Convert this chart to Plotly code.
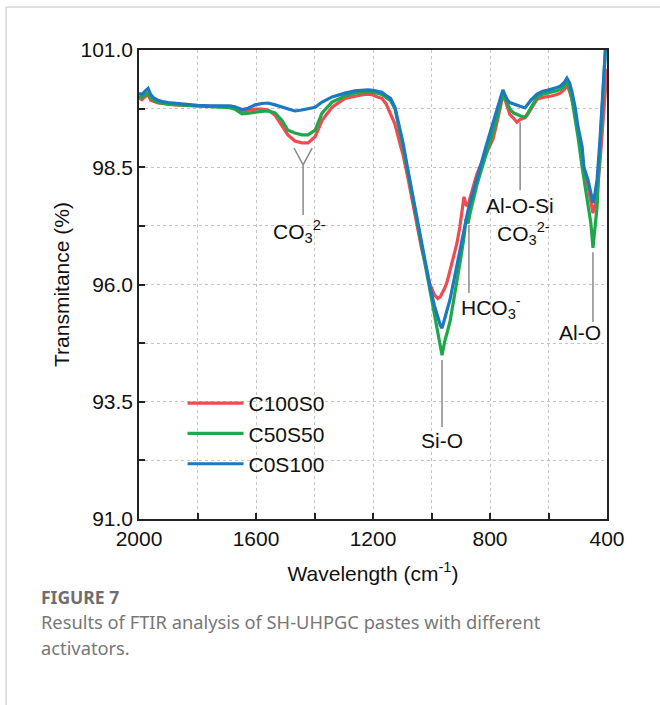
import plotly.graph_objects as go

# ---------------- data ----------------
wavenumber = [2000, 1990, 1980, 1969, 1960, 1950, 1935, 1920, 1900, 1870,
              1840, 1800, 1760, 1720, 1706, 1690, 1672, 1660, 1648, 1630,
              1603, 1580, 1559, 1535, 1511, 1491, 1467, 1443, 1422, 1398,
              1374, 1340, 1296, 1262, 1240, 1217, 1200, 1185, 1170, 1155,
              1140, 1125, 1110, 1097, 1080, 1065, 1050, 1035, 1020, 1005,
              990, 978, 970, 964, 955, 947, 937, 926, 913, 903,
              896, 889, 882, 875, 868, 858, 845, 834, 824, 812,
              800, 790, 780, 770, 760, 756, 749, 740, 732, 720,
              708, 697, 688, 680, 674, 660, 639, 620, 605, 590,
              571, 560, 547, 537, 528, 520, 509, 499, 485, 479,
              465, 455, 448, 441, 434, 424, 414, 407, 400]

c100s0 = [99.98, 99.94, 100.00, 100.05, 99.93, 99.90, 99.87, 99.86, 99.84, 99.83,
          99.82, 99.81, 99.80, 99.80, 99.80, 99.79, 99.77, 99.72, 99.69, 99.71,
          99.74, 99.74, 99.72, 99.61, 99.38, 99.19, 99.06, 99.02, 99.02, 99.15,
          99.50, 99.78, 99.97, 100.02, 100.04, 100.06, 100.04, 100.00, 99.97, 99.85,
          99.65, 99.42, 99.05, 98.76, 98.25, 97.75, 97.30, 96.80, 96.40, 96.00,
          95.78, 95.70, 95.74, 95.80, 95.92, 96.05, 96.30, 96.59, 96.88, 97.23,
          97.50, 97.87, 97.70, 97.68, 97.85, 98.08, 98.35, 98.52, 98.65, 98.80,
          98.93, 99.10, 99.35, 99.65, 99.90, 100.02, 99.95, 99.75, 99.62, 99.55,
          99.46, 99.52, 99.55, 99.56, 99.60, 99.75, 99.95, 99.99, 100.00, 100.02,
          100.05, 100.08, 100.15, 100.25, 100.12, 99.95, 99.65, 99.22, 98.75, 98.42,
          98.10, 97.80, 97.52, 97.70, 97.95, 98.60, 99.40, 100.05, 100.60]

c50s50 = [100.02, 99.98, 100.05, 100.08, 99.98, 99.93, 99.88, 99.86, 99.85, 99.83,
          99.82, 99.81, 99.80, 99.79, 99.79, 99.77, 99.74, 99.68, 99.64, 99.65,
          99.68, 99.69, 99.70, 99.66, 99.50, 99.29, 99.23, 99.19, 99.19, 99.29,
          99.66, 99.89, 100.02, 100.08, 100.09, 100.10, 100.09, 100.08, 100.05, 99.98,
          99.92, 99.75, 99.35, 98.93, 98.38, 97.88, 97.38, 96.82, 96.30, 95.84,
          95.35, 94.98, 94.72, 94.49, 94.78, 95.00, 95.20, 95.60, 96.03, 96.45,
          96.72, 97.00, 97.40, 97.30, 97.52, 97.80, 98.12, 98.35, 98.55, 98.82,
          99.05, 99.23, 99.45, 99.70, 99.93, 100.05, 100.00, 99.85, 99.74, 99.66,
          99.62, 99.60, 99.58, 99.57, 99.62, 99.78, 100.00, 100.06, 100.08, 100.10,
          100.13, 100.16, 100.22, 100.32, 100.18, 99.95, 99.57, 99.14, 98.50, 98.25,
          97.74, 97.30, 96.78, 97.20, 97.65, 98.93, 100.15, 101.00, 101.60]

c0s100 = [100.08, 100.05, 100.12, 100.18, 100.05, 99.98, 99.93, 99.90, 99.88, 99.86,
          99.84, 99.82, 99.81, 99.81, 99.82, 99.81, 99.79, 99.76, 99.73, 99.75,
          99.83, 99.86, 99.87, 99.83, 99.78, 99.74, 99.70, 99.72, 99.74, 99.78,
          99.89, 100.00, 100.08, 100.13, 100.14, 100.15, 100.14, 100.12, 100.10, 100.03,
          99.97, 99.78, 99.40, 99.01, 98.42, 97.92, 97.44, 96.88, 96.40, 95.95,
          95.55, 95.28, 95.13, 95.07, 95.25, 95.45, 95.67, 96.02, 96.37, 96.72,
          96.95, 97.20, 97.40, 97.58, 97.74, 97.97, 98.25, 98.51, 98.72, 98.98,
          99.23, 99.45, 99.65, 99.90, 100.08, 100.15, 100.05, 99.93, 99.88, 99.85,
          99.83, 99.80, 99.78, 99.77, 99.82, 99.93, 100.06, 100.12, 100.14, 100.16,
          100.20, 100.23, 100.30, 100.40, 100.30, 100.12, 99.78, 99.36, 98.93, 98.50,
          98.23, 97.95, 97.74, 97.95, 98.23, 99.08, 100.15, 101.00, 101.60]

series_names = ["C100S0", "C50S50", "C0S100"]
series_values = [c100s0, c50s50, c0s100]
series_colors = ["#f04b50", "#1fa84b", "#1a79c1"]

x_tick_values = [2000, 1600, 1200, 800, 400]
x_minor_values = [1800, 1400, 1000, 600]
y_tick_values = [91.0, 93.5, 96.0, 98.5, 101.0]
y_tick_labels = ["91.0", "93.5", "96.0", "98.5", "101.0"]
y_minor_values = [92.25, 94.75, 97.25, 99.75]

FONT = "Liberation Sans, Arial, sans-serif"
FS = 21
GRID = "#c4c4c4"
LEADER = "#8a8a8a"

fig = go.Figure()
for name, vals, col in zip(series_names, series_values, series_colors):
    fig.add_trace(go.Scatter(x=wavenumber, y=vals, mode="lines", name=name,
                             line=dict(color=col, width=3.2)))

axis_common = dict(
    ticks="inside", ticklen=6, tickwidth=1.5, tickcolor="#222",
    showline=True, linecolor="#222", linewidth=1.5, mirror=True,
    showgrid=True, gridcolor=GRID, gridwidth=1, griddash="dot",
    zeroline=False, tickfont=dict(family=FONT, size=FS, color="#111"),
)

fig.update_xaxes(range=[2000, 400], tickvals=x_tick_values,
                 minor=dict(tickvals=x_minor_values, ticks="inside", ticklen=6,
                            tickwidth=1.5, tickcolor="#222", showgrid=True,
                            gridcolor=GRID, griddash="dot", gridwidth=1),
                 title=dict(text="Wavelength (cm<sup>-1</sup>)", standoff=17,
                            font=dict(family=FONT, size=FS, color="#111")),
                 **axis_common)
fig.update_yaxes(range=[91, 101], tickvals=y_tick_values, ticktext=y_tick_labels,
                 minor=dict(tickvals=y_minor_values, ticks="inside", ticklen=6,
                            tickwidth=1.5, tickcolor="#222", showgrid=True,
                            gridcolor=GRID, griddash="dot", gridwidth=1),
                 title=dict(text="Transmitance (%)", standoff=5,
                            font=dict(family=FONT, size=FS, color="#111")),
                 **axis_common)

# ---------------- peak labels ----------------
shapes = [
    # CO3 2- fork (two carbonate bands)
    dict(type="path", xref="x", yref="y",
         path="M 1470,98.91 L 1439,98.55 L 1408,98.91 M 1439,98.55 L 1439,97.48",
         line=dict(color=LEADER, width=1.5)),
    dict(type="line", xref="x", yref="y", x0=964, x1=964, y0=94.39, y1=92.96,
         line=dict(color=LEADER, width=1.5)),
    dict(type="line", xref="x", yref="y", x0=872, x1=872, y0=97.27, y1=95.82,
         line=dict(color=LEADER, width=1.5)),
    dict(type="line", xref="x", yref="y", x0=697, x1=697, y0=99.46, y1=98.01,
         line=dict(color=LEADER, width=1.5)),
    dict(type="line", xref="x", yref="y", x0=448, x1=448, y0=96.69, y1=95.20,
         line=dict(color=LEADER, width=1.5)),
    # page border of the cropped figure
    dict(type="line", xref="paper", yref="paper", x0=-0.284, x1=-0.284,
         y0=1.0917, y1=-0.42, line=dict(color="#d6d6d6", width=1.5)),
    dict(type="line", xref="paper", yref="paper", x0=-0.284, x1=1.2,
         y0=1.0917, y1=1.0917, line=dict(color="#d6d6d6", width=1.5)),
]

label_font = dict(family=FONT, size=FS, color="#111")
annotations = [
    dict(x=1450, y=97.12, text="CO<sub>3</sub><sup>2-</sup>"),
    dict(x=964, y=92.68, text="Si-O"),
    dict(x=797, y=95.50, text="HCO<sub>3</sub><sup>-</sup>"),
    dict(x=697, y=97.69, text="Al-O-Si"),
    dict(x=687, y=97.08, text="CO<sub>3</sub><sup>2-</sup>"),
    dict(x=492, y=94.97, text="Al-O"),
]
for a in annotations:
    a.update(xref="x", yref="y", showarrow=False, font=label_font,
             xanchor="center", yanchor="middle")

caption_font = "Noto Sans, Open Sans, sans-serif"
annotations += [
    dict(xref="paper", yref="paper", x=-0.2137, y=-0.1663, xanchor="left",
         yanchor="middle", showarrow=False, text="<b>FIGURE 7</b>",
         font=dict(family=caption_font, size=17.5, color="#6e6e6e")),
    dict(xref="paper", yref="paper", x=-0.2137, y=-0.2196, xanchor="left",
         yanchor="middle", showarrow=False,
         text="Results of FTIR analysis of SH-UHPGC pastes with different",
         font=dict(family=caption_font, size=18.3, color="#777777")),
    dict(xref="paper", yref="paper", x=-0.2137, y=-0.2750, xanchor="left",
         yanchor="middle", showarrow=False, text="activators.",
         font=dict(family=caption_font, size=18.3, color="#777777")),
]

fig.update_layout(
    width=660, height=705,
    margin=dict(l=139, r=53, t=50, b=186),
    paper_bgcolor="white", plot_bgcolor="white",
    shapes=shapes, annotations=annotations,
    legend=dict(x=0.093, y=0.29, xanchor="left", yanchor="top",
                bgcolor="rgba(0,0,0,0)", borderwidth=0,
                font=dict(family=FONT, size=FS, color="#111"),
                itemwidth=56, tracegroupgap=0),
    showlegend=True,
)

fig.write_html("out.html", config={"displayModeBar": False},
               post_script="document.body.style.margin='0';")
